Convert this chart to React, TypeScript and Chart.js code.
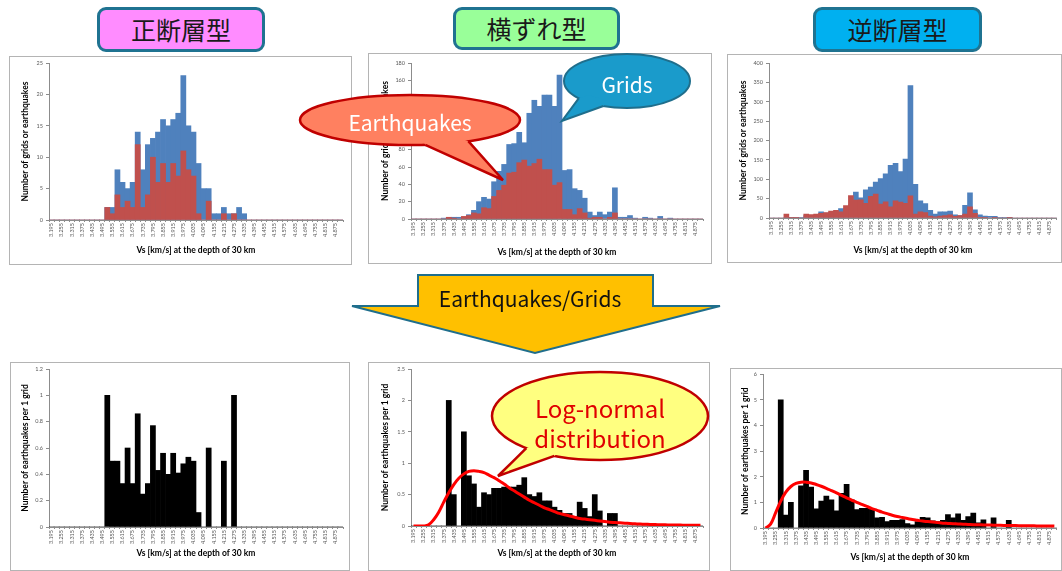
import React, { useEffect, useRef } from "react";
import { Chart, registerables } from "chart.js";

Chart.register(...registerables);

// ---------- DATA ----------
const categories = [
  "3.195", "3.225", "3.255", "3.285", "3.315", "3.345", "3.375", "3.405", "3.435", "3.465",
  "3.495", "3.525", "3.555", "3.585", "3.615", "3.645", "3.675", "3.705", "3.735", "3.765",
  "3.795", "3.825", "3.855", "3.885", "3.915", "3.945", "3.975", "4.005", "4.035", "4.065",
  "4.095", "4.125", "4.155", "4.185", "4.215", "4.245", "4.275", "4.305", "4.335", "4.365",
  "4.395", "4.425", "4.455", "4.485", "4.515", "4.545", "4.575", "4.605", "4.635", "4.665",
  "4.695", "4.725", "4.755", "4.785", "4.815", "4.845", "4.875", "4.905",
];

// 正断層型 (normal fault)
const normalGrids = [
  0, 0, 0, 0, 0, 0, 0, 0, 0, 0, 0,
  2, 2, 8, 6, 5, 6, 14, 8, 12, 13,
  14, 16, 15, 16, 17, 23, 15, 14, 9, 5,
  5, 1, 1, 2, 1, 1, 2, 1,
  0, 0, 0, 0, 0, 0, 0, 0, 0, 0, 0, 0, 0, 0, 0, 0, 0, 0, 0,
];
const normalQuakes = [
  0, 0, 0, 0, 0, 0, 0, 0, 0, 0, 0,
  2, 1, 4, 2, 3, 2, 12, 2, 4, 10,
  6, 9, 6, 9, 7, 11, 8, 7, 1, 0,
  3, 0, 0, 1, 0, 1, 0, 0,
  0, 0, 0, 0, 0, 0, 0, 0, 0, 0, 0, 0, 0, 0, 0, 0, 0, 0, 0,
];
const normalRatio = [
  0, 0, 0, 0, 0, 0, 0, 0, 0, 0, 0,
  1, 0.5, 0.5, 0.33, 0.6, 0.33, 0.86, 0.25, 0.33, 0.77,
  0.43, 0.56, 0.4, 0.56, 0.41, 0.48, 0.53, 0.5, 0.11, 0,
  0.6, 0, 0, 0.5, 0, 1, 0, 0,
  0, 0, 0, 0, 0, 0, 0, 0, 0, 0, 0, 0, 0, 0, 0, 0, 0, 0, 0,
];

// 横ずれ型 (strike-slip)
const strikeGrids = [
  0, 0, 0, 0, 0, 0, 1, 1, 2, 2,
  2, 5, 10, 20, 25, 23, 43, 55, 63, 86,
  87, 100, 88, 122, 137, 130, 143, 143, 130, 166,
  56, 57, 35, 33, 24, 8, 4, 8, 5, 8,
  36, 2, 2, 4, 1, 0, 2, 1, 0, 3,
  0, 1, 0, 0, 0, 0, 0, 0,
];
const strikeQuakes = [
  0, 0, 0, 0, 0, 0, 0, 2, 1, 0,
  3, 4, 7, 6, 13, 12, 26, 33, 39, 53,
  54, 65, 68, 61, 64, 69, 57, 57, 39, 42,
  11, 11, 5, 12, 7, 1, 2, 2, 0, 2,
  7, 0, 0, 0, 0, 0, 0, 0, 0, 0,
  0, 0, 0, 0, 0, 0, 0, 0,
];
const strikeRatio = [
  0, 0, 0, 0, 0, 0, 0, 2.0, 0.5, 0,
  1.5, 0.8, 0.67, 0.3, 0.53, 0.5, 0.6, 0.6, 0.62, 0.62,
  0.62, 0.65, 0.77, 0.5, 0.47, 0.53, 0.4, 0.4, 0.3, 0.25,
  0.2, 0.2, 0.15, 0.38, 0.28, 0.15, 0.5, 0.24, 0, 0.2,
  0.2, 0, 0, 0, 0, 0, 0, 0, 0, 0,
  0, 0, 0, 0, 0, 0, 0, 0,
];
const strikeFit = [
  0, 0, 0, 0.02, 0.1, 0.22, 0.38, 0.53, 0.66, 0.76,
  0.83, 0.87, 0.88, 0.87, 0.85, 0.81, 0.77, 0.72, 0.67, 0.61,
  0.56, 0.51, 0.46, 0.41, 0.37, 0.33, 0.29, 0.26, 0.23, 0.2,
  0.18, 0.16, 0.14, 0.12, 0.11, 0.1, 0.09, 0.08, 0.07, 0.06,
  0.055, 0.05, 0.045, 0.04, 0.035, 0.03, 0.028, 0.025, 0.022, 0.02,
  0.018, 0.016, 0.015, 0.014, 0.013, 0.012, 0.011, 0.01,
];

// 逆断層型 (reverse fault)
const reverseGrids = [
  0, 0, 0, 2, 2, 2, 1, 6, 4, 6,
  16, 13, 14, 18, 24, 24, 34, 67, 52, 73,
  80, 93, 102, 114, 136, 141, 120, 152, 342, 87,
  44, 37, 20, 10, 16, 16, 18, 8, 6, 33,
  65, 21, 8, 5, 4, 4, 2, 1, 2, 0,
  0, 0, 0, 0, 0, 0, 0, 0,
];
const reverseQuakes = [
  0, 0, 0, 10, 1, 2, 0, 10, 9, 10,
  12, 14, 18, 20, 16, 32, 58, 46, 47, 38,
  56, 62, 36, 42, 29, 44, 41, 38, 57, 10,
  16, 14, 5, 3, 5, 6, 8, 4, 6, 10,
  29, 12, 2, 1, 0, 2, 0, 0, 1, 0,
  0, 0, 0, 0, 0, 0, 0, 0,
];
const reverseRatio = [
  0, 0, 0, 5.0, 0.5, 1.0, 0, 1.65, 2.25, 1.6,
  0.75, 1.05, 1.25, 1.1, 0.67, 1.35, 1.7, 1.1, 0.72, 0.77,
  0.77, 0.77, 0.4, 0.42, 0.25, 0.3, 0.3, 0.33, 0.17, 0.12,
  0.25, 0.42, 0.4, 0.28, 0.25, 0.3, 0.52, 0.4, 0.55, 0.3,
  0.45, 0.58, 0.2, 0.32, 0, 0.4, 0, 0, 0.3, 0,
  0, 0, 0, 0, 0, 0, 0, 0,
];
const reverseFit = [
  0, 0.15, 0.6, 1.05, 1.4, 1.62, 1.74, 1.79, 1.79, 1.76,
  1.7, 1.63, 1.55, 1.46, 1.37, 1.27, 1.18, 1.09, 1.0, 0.92,
  0.84, 0.76, 0.69, 0.62, 0.56, 0.5, 0.45, 0.41, 0.37, 0.33,
  0.3, 0.27, 0.25, 0.23, 0.21, 0.19, 0.18, 0.17, 0.16, 0.15,
  0.14, 0.13, 0.125, 0.12, 0.115, 0.11, 0.105, 0.1, 0.1, 0.095,
  0.09, 0.09, 0.085, 0.085, 0.08, 0.08, 0.08, 0.075,
];

const xTitle = "Vs [km/s] at the depth of 30 km";
const yTitleTop = "Number of grids or earthquakes";
const yTitleBottom = "Number of earthquakes per 1 grid";

// ---------- STYLE ----------
const BLUE = "#4F81BD";
const RED = "#C0504D";
const AXIS = "#8c8c8c";
const FONT = "Lato, 'DejaVu Sans', sans-serif";
const JP = "'Noto Sans CJK JP', 'Noto Sans', sans-serif";

type Box = { x: number; y: number; w: number; h: number };
type Plot = { l: number; t: number; r: number; b: number };

function ChartPanel(props: {
  panel: Box;
  plot: Plot;
  yTitleX: number;
  xTitleY: number;
  datasets: any[];
  yMax: number;
  yStep: number;
  yTitle: string;
}) {
  const ref = useRef<HTMLCanvasElement | null>(null);
  const { panel, plot } = props;
  useEffect(() => {
    const W = panel.w;
    const H = panel.h;
    const titleSize = 8.5;
    const lh = titleSize * 1.2;
    const yAxisWidth = plot.l - panel.x;
    const xAxisHeight = panel.y + H - plot.b;
    const yTitlePad = props.yTitleX - panel.x - lh / 2;
    const xTitlePad = panel.y + H - props.xTitleY - lh / 2;
    const chart = new Chart(ref.current as HTMLCanvasElement, {
      type: "bar",
      data: { labels: categories, datasets: props.datasets },
      options: {
        animation: false,
        responsive: false,
        maintainAspectRatio: false,
        devicePixelRatio: 1,
        layout: {
          padding: { left: 0, top: plot.t - panel.y, right: panel.x + W - plot.r, bottom: 0 },
        },
        plugins: { legend: { display: false }, tooltip: { enabled: false } },
        scales: {
          x: {
            stacked: true,
            offset: true,
            grid: { display: true, drawOnChartArea: false, drawTicks: true, tickLength: 2, color: AXIS },
            border: { color: AXIS },
            ticks: {
              autoSkip: false,
              maxRotation: 90,
              minRotation: 90,
              padding: 1,
              color: "#595959",
              font: { size: 5.5, family: FONT },
              callback: (_v: any, i: number) => (i % 2 === 0 ? categories[i] : ""),
            },
            title: {
              display: true,
              text: xTitle,
              color: "#000",
              font: { size: titleSize, weight: "bold", family: FONT },
              padding: { top: 0, bottom: xTitlePad },
            },
            afterFit: (s: any) => {
              s.height = xAxisHeight;
            },
          },
          y: {
            stacked: false,
            min: 0,
            max: props.yMax,
            grid: { display: true, drawOnChartArea: false, drawTicks: true, tickLength: 3, color: AXIS },
            border: { color: AXIS },
            ticks: {
              stepSize: props.yStep,
              padding: 3,
              color: "#595959",
              font: { size: 5.5, family: FONT },
              callback: (v: any) => String(Number(Number(v).toFixed(2))),
            },
            title: {
              display: true,
              text: props.yTitle,
              color: "#000",
              font: { size: titleSize, weight: "bold", family: FONT },
              padding: { top: yTitlePad, bottom: 0 },
            },
            afterFit: (s: any) => {
              s.width = yAxisWidth;
            },
          },
        },
      } as any,
    });
    return () => chart.destroy();
  }, []);
  return (
    <>
      <canvas
        ref={ref}
        width={panel.w}
        height={panel.h}
        style={{ position: "absolute", left: panel.x, top: panel.y, width: panel.w, height: panel.h, display: "block" }}
      />
      <div
        style={{
          position: "absolute",
          left: panel.x,
          top: panel.y,
          width: panel.w,
          height: panel.h,
          border: "1px solid #b4b4b4",
          boxSizing: "border-box",
          pointerEvents: "none",
        }}
      />
    </>
  );
}

function barSet(data: number[], color: string, order: number) {
  return {
    type: "bar",
    data,
    backgroundColor: color,
    borderWidth: 0,
    barPercentage: 1,
    categoryPercentage: 1,
    order,
  };
}

function lineSet(data: number[]) {
  return {
    type: "line",
    data,
    borderColor: "#FF0000",
    borderWidth: 3,
    pointRadius: 0,
    tension: 0.4,
    fill: false,
    order: 0,
  };
}

function Callout(props: {
  cx: number; cy: number; rx: number; ry: number; t1: number; t2: number;
  tip: [number, number]; fill: string; stroke: string; sw: number;
}) {
  const { cx, cy, rx, ry, t1, t2, tip, fill, stroke, sw } = props;
  const p = (t: number, s = 1) => [cx + s * rx * Math.cos((t * Math.PI) / 180), cy + s * ry * Math.sin((t * Math.PI) / 180)];
  const b1 = p(t1);
  const b2 = p(t2);
  const i1 = p(t1, 0.8);
  const i2 = p(t2, 0.8);
  const pts = (a: number[][]) => a.map((q) => q[0].toFixed(1) + "," + q[1].toFixed(1)).join(" ");
  return (
    <g>
      <ellipse cx={cx} cy={cy} rx={rx} ry={ry} fill={fill} stroke={stroke} strokeWidth={sw} />
      <polygon points={pts([i1, b1, tip, b2, i2])} fill={fill} />
      <polyline points={pts([b1, tip, b2])} fill="none" stroke={stroke} strokeWidth={sw} strokeLinejoin="miter" />
    </g>
  );
}

function TitleBox(props: { x: number; y: number; w: number; h: number; bg: string; text: string }) {
  return (
    <div
      style={{
        position: "absolute",
        left: props.x,
        top: props.y,
        width: props.w,
        height: props.h,
        background: props.bg,
        border: "3px solid #1F7391",
        borderRadius: 9,
        boxSizing: "border-box",
        display: "flex",
        alignItems: "center",
        justifyContent: "center",
        fontFamily: JP,
        fontSize: 25,
        fontWeight: 400,
        color: "#1a1a1a",
        lineHeight: 1,
      }}
    >
      {props.text}
    </div>
  );
}

export default function App() {
  return (
    <div style={{ position: "absolute", left: 0, top: 0, width: 1062, height: 571, overflow: "hidden", background: "#fff" }}>
      <TitleBox x={97} y={7} w={168} h={45} bg="#FF8CFF" text="正断層型" />
      <TitleBox x={453} y={7} w={167} h={43} bg="#99FF99" text="横ずれ型" />
      <TitleBox x={813} y={7} w={169} h={45} bg="#00B0F0" text="逆断層型" />

      <ChartPanel
        panel={{ x: 9, y: 56, w: 343, h: 209 }}
        plot={{ l: 49, t: 63, r: 343, b: 220 }}
        yTitleX={25}
        xTitleY={250}
        yMax={25}
        yStep={5}
        yTitle={yTitleTop}
        datasets={[barSet(normalQuakes, RED, 1), barSet(normalGrids, BLUE, 2)]}
      />
      <ChartPanel
        panel={{ x: 368, y: 53, w: 344, h: 211 }}
        plot={{ l: 411, t: 63, r: 703, b: 219 }}
        yTitleX={385}
        xTitleY={252}
        yMax={180}
        yStep={20}
        yTitle={yTitleTop}
        datasets={[barSet(strikeQuakes, RED, 1), barSet(strikeGrids, BLUE, 2)]}
      />
      <ChartPanel
        panel={{ x: 727, y: 54, w: 335, h: 209 }}
        plot={{ l: 769, t: 63, r: 1057, b: 218 }}
        yTitleX={743}
        xTitleY={250}
        yMax={400}
        yStep={50}
        yTitle={yTitleTop}
        datasets={[barSet(reverseQuakes, RED, 1), barSet(reverseGrids, BLUE, 2)]}
      />
      <ChartPanel
        panel={{ x: 10, y: 362, w: 340, h: 209 }}
        plot={{ l: 49, t: 369, r: 343, b: 527 }}
        yTitleX={25}
        xTitleY={553}
        yMax={1.2}
        yStep={0.2}
        yTitle={yTitleBottom}
        datasets={[barSet(normalRatio, "#000000", 1)]}
      />
      <ChartPanel
        panel={{ x: 368, y: 362, w: 342, h: 209 }}
        plot={{ l: 411, t: 369, r: 703, b: 526 }}
        yTitleX={385}
        xTitleY={553}
        yMax={2.5}
        yStep={0.5}
        yTitle={yTitleBottom}
        datasets={[lineSet(strikeFit), barSet(strikeRatio, "#000000", 1)]}
      />
      <ChartPanel
        panel={{ x: 730, y: 368, w: 332, h: 203 }}
        plot={{ l: 763, t: 373, r: 1057, b: 528 }}
        yTitleX={745}
        xTitleY={557}
        yMax={6}
        yStep={1}
        yTitle={yTitleBottom}
        datasets={[lineSet(reverseFit), barSet(reverseRatio, "#000000", 1)]}
      />

      <svg
        width={1062}
        height={571}
        style={{ position: "absolute", left: 0, top: 0, pointerEvents: "none" }}
      >
        <polygon
          points="418,275 653,275 653,306 720,306 535,353 352,306 418,306"
          fill="#FFC000"
          stroke="#1F6E8C"
          strokeWidth={2}
          strokeLinejoin="miter"
        />
        <text x={530} y={298} textAnchor="middle" dominantBaseline="central" fontFamily={JP} fontSize={21} fill="#111">
          Earthquakes/Grids
        </text>

        <Callout cx={410} cy={120} rx={110} ry={25} t1={58} t2={82} tip={[503, 180]} fill="#FF8060" stroke="#C00000" sw={2.5} />
        <text x={410} y={122} textAnchor="middle" dominantBaseline="central" fontFamily={JP} fontSize={21} fill="#fff">
          Earthquakes
        </text>

        <Callout cx={627} cy={81} rx={63} ry={27} t1={112} t2={140} tip={[562, 121]} fill="#1A9BCB" stroke="#1F6E8C" sw={2} />
        <text x={627} y={84} textAnchor="middle" dominantBaseline="central" fontFamily={JP} fontSize={21} fill="#fff">
          Grids
        </text>

        <Callout cx={600} cy={416} rx={108} ry={44} t1={115} t2={133} tip={[498, 476]} fill="#FFFF80" stroke="#C00000" sw={2.5} />
        <text x={600} y={407} textAnchor="middle" dominantBaseline="central" fontFamily={JP} fontSize={24} fill="#E00000">
          Log-normal
        </text>
        <text x={600} y={437} textAnchor="middle" dominantBaseline="central" fontFamily={JP} fontSize={24} fill="#E00000">
          distribution
        </text>
      </svg>
    </div>
  );
}
